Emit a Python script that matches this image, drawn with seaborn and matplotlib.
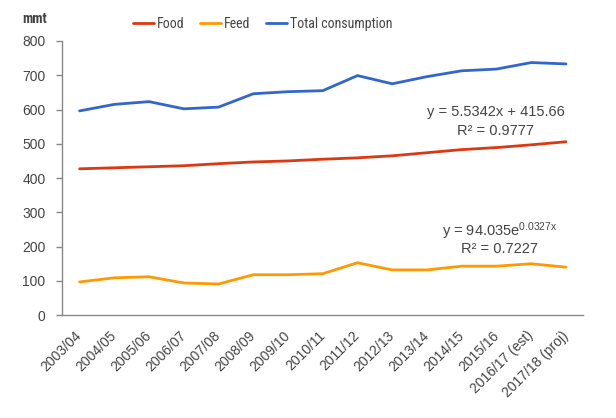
import matplotlib
matplotlib.use("Agg")
import matplotlib.pyplot as plt
import seaborn as sns
import pandas as pd
import numpy as np
from matplotlib import font_manager as fm

categories = ["2003/04", "2004/05", "2005/06", "2006/07", "2007/08", "2008/09",
              "2009/10", "2010/11", "2011/12", "2012/13", "2013/14", "2014/15",
              "2015/16", "2016/17 (est)", "2017/18 (proj)"]
food = [427, 430, 433, 436, 442, 447, 450, 455, 459, 465, 474, 483, 489, 497, 506]
feed = [97, 109, 112, 94, 91, 118, 118, 121, 153, 132, 132, 143, 143, 150, 140]
total = [596, 615, 623, 602, 607, 646, 652, 655, 699, 675, 696, 713, 718, 737, 733]
series_names = ["Food", "Feed", "Total consumption"]
colors = ["#dc3912", "#ff9900", "#3366cc"]
y_ticks = [0, 100, 200, 300, 400, 500, 600, 700, 800]

sns.set_style("white")
plt.rcParams["font.family"] = ["Liberation Sans", "DejaVu Sans"]
plt.rcParams["mathtext.default"] = "regular"

names = {f.name for f in fm.fontManager.ttflist}
cond = "Roboto Condensed" if "Roboto Condensed" in names else (
    "Liberation Sans Narrow" if "Liberation Sans Narrow" in names else None)

idx = np.arange(len(categories))
df = pd.DataFrame({
    "x": np.concatenate([idx, idx, idx]),
    "value": food + feed + total,
    "series": sum([[n] * len(categories) for n in series_names], []),
})

fig = plt.figure(figsize=(6.16, 4.18), dpi=100)
ax = fig.add_axes([0.101, 0.246, 0.846, 0.656])
sns.lineplot(data=df, x="x", y="value", hue="series", hue_order=series_names,
             palette=colors, linewidth=2, ax=ax, legend=True)

ax.set_xlim(-0.5, len(categories) - 0.5)
ax.set_ylim(0, 800)
ax.set_yticks(y_ticks)
ax.set_yticklabels([str(v) for v in y_ticks], fontsize=10, color="#444444")
ax.set_xticks(idx)
ax.set_xticklabels(categories, rotation=45, ha="right", va="center",
                   rotation_mode="anchor", fontsize=10, color="#444444")
ax.set_xticks(np.arange(len(categories) + 1) - 0.5, minor=True)
ax.tick_params(axis="x", which="major", length=0, pad=13)
ax.tick_params(axis="x", which="minor", length=5, color="#888888", width=1, direction="out")
ax.tick_params(axis="y", length=4, color="#888888", width=1, direction="out", left=True, pad=8)
ax.set_xlabel("")
ax.set_ylabel("")
for s in ["top", "right"]:
    ax.spines[s].set_visible(False)
for s in ["left", "bottom"]:
    ax.spines[s].set_color("#888888")
    ax.spines[s].set_linewidth(1)

leg_font = {"size": 10}
if cond:
    leg_font["family"] = cond
else:
    leg_font["size"] = 9
leg = ax.legend(loc="upper center", bbox_to_anchor=(0.385, 1.133), ncol=3, frameon=False,
                prop=leg_font, handlelength=1.5, columnspacing=1.15, handletextpad=0.2)
for t in leg.get_texts():
    t.set_color("#444444")

fig.text(0.036, 0.955, "mmt", fontsize=10, fontweight="bold", color="#444444",
         ha="left", va="center", family=cond if cond else "Liberation Sans")

ax.text(11.97, 593, "y = 5.5342x + 415.66", ha="center", va="center", fontsize=10.5, color="#444444")
ax.text(11.97, 537, "R² = 0.9777", ha="center", va="center", fontsize=10.5, color="#444444")
ax.text(12.1, 246, r"y = 94.035e$^{0.0327x}$", ha="center", va="center", fontsize=10.5, color="#444444")
ax.text(12.1, 193, "R² = 0.7227", ha="center", va="center", fontsize=10.5, color="#444444")

fig.savefig("out.png", dpi=100)
